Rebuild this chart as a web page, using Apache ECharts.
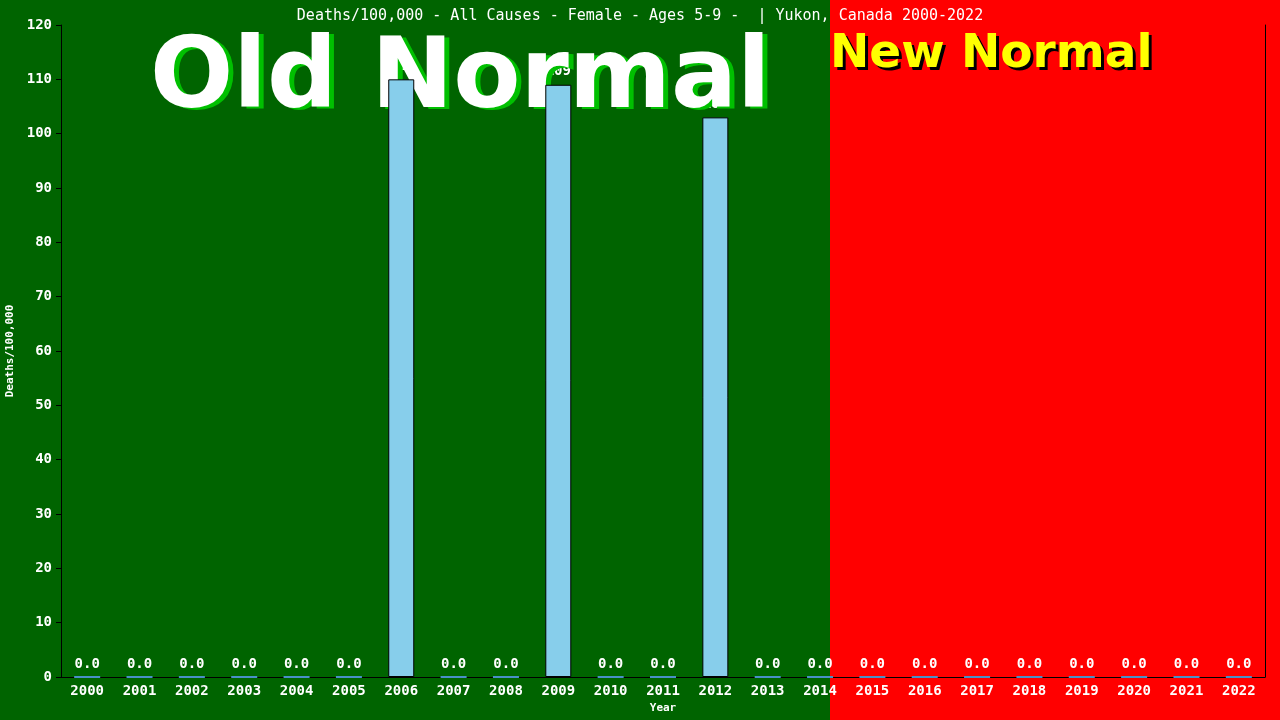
<!DOCTYPE html>
<html>
<head>
<meta charset="utf-8">
<script src="https://cdn.jsdelivr.net/npm/echarts@6/dist/echarts.min.js"></script>
<style>
  html, body { margin: 0; padding: 0; background: #006400; }
  #chart { width: 1280px; height: 720px; }
</style>
</head>
<body>
<div id="chart"></div>
<script>
// data
const years = ['2000', '2001', '2002', '2003', '2004', '2005', '2006', '2007', '2008', '2009', '2010', '2011',
    '2012', '2013', '2014', '2015', '2016', '2017', '2018', '2019', '2020', '2021', '2022'];
const deaths = [0, 0, 0, 0, 0, 0, 110, 0, 0, 109, 0, 0, 103, 0, 0, 0, 0, 0, 0, 0, 0, 0, 0];
const yTicks = [0, 10, 20, 30, 40, 50, 60, 70, 80, 90, 100, 110, 120];

const mono = 'DejaVu Sans Mono';

let chart = echarts.init(document.getElementById('chart'));

const labelStyle = {
    color: '#fff',
    fontFamily: mono,
    fontSize: 14,
    fontWeight: 'bold'
};

chart.setOption({
    backgroundColor: '#006400',
    animation: false,
    title: {
        text: 'Deaths/100,000 - All Causes - Female - Ages 5-9 -  | Yukon, Canada 2000-2022',
        left: 'center',
        top: 4,
        textStyle: {
            color: '#fff',
            fontFamily: mono,
            fontSize: 15,
            fontWeight: 'normal'
        }
    },
    graphic: [
        {
            type: 'rect',
            z: -10,
            shape: { x: 830, y: 0, width: 450, height: 720 },
            style: { fill: '#ff0000' }
        },
        {
            type: 'text',
            z: 0,
            left: 155,
            top: 35,
            style: {
                text: 'Old Normal',
                fill: '#00c000',
                font: 'bold 98px "DejaVu Sans"'
            }
        },
        {
            type: 'text',
            z: 1,
            left: 150,
            top: 33,
            style: {
                text: 'Old Normal',
                fill: '#fff',
                font: 'bold 98px "DejaVu Sans"'
            }
        },
        {
            type: 'text',
            z: 0,
            left: 833,
            top: 34,
            style: {
                text: 'New Normal',
                fill: '#000',
                font: 'bold 47px "DejaVu Sans"'
            }
        },
        {
            type: 'text',
            z: 1,
            left: 830,
            top: 31,
            style: {
                text: 'New Normal',
                fill: '#ffff00',
                font: 'bold 47px "DejaVu Sans"'
            }
        }
    ],
    grid: {
        left: 61,
        right: 15,
        top: 25,
        bottom: 43,
        outerBoundsMode: 'none'
    },
    xAxis: {
        type: 'category',
        data: years,
        name: 'Year',
        nameLocation: 'middle',
        nameGap: 26,
        nameTextStyle: {
            color: '#fff',
            fontFamily: mono,
            fontSize: 11,
            fontWeight: 'bold'
        },
        axisLine: {
            lineStyle: { color: '#000', width: 1 }
        },
        axisTick: { show: false },
        axisLabel: Object.assign({ margin: 7 }, labelStyle)
    },
    yAxis: [
        {
            type: 'value',
            min: yTicks[0],
            max: yTicks[yTicks.length - 1],
            interval: yTicks[1] - yTicks[0],
            name: 'Deaths/100,000',
            nameLocation: 'middle',
            nameGap: 41,
            nameTextStyle: {
                color: '#fff',
                fontFamily: mono,
                fontSize: 11,
                fontWeight: 'bold'
            },
            axisLine: {
                show: true,
                lineStyle: { color: '#000', width: 1 }
            },
            axisTick: {
                show: true,
                length: 5,
                lineStyle: { color: '#000' }
            },
            axisLabel: Object.assign({ margin: 9 }, labelStyle),
            splitLine: { show: false }
        },
        {
            type: 'value',
            position: 'right',
            min: yTicks[0],
            max: yTicks[yTicks.length - 1],
            interval: yTicks[1] - yTicks[0],
            axisLine: {
                show: true,
                lineStyle: { color: '#000', width: 1 }
            },
            axisTick: { show: false },
            axisLabel: { show: false },
            splitLine: { show: false }
        }
    ],
    series: [
        {
            // labels only, drawn under the big banner text
            type: 'bar',
            barWidth: 26,
            z: -1,
            silent: true,
            data: deaths,
            itemStyle: { color: 'rgba(0,0,0,0)' },
            label: Object.assign({
                show: true,
                position: 'top',
                distance: 6,
                formatter: function (p) {
                    return p.value === 0 ? '0.0' : String(p.value);
                }
            }, labelStyle)
        },
        {
            type: 'bar',
            barWidth: 26,
            barGap: '-100%',
            z: 5,
            data: deaths.map(function (v) {
                return {
                    value: v,
                    itemStyle: {
                        color: '#87ceeb',
                        borderColor: v === 0 ? '#4a90c8' : '#000',
                        borderWidth: v === 0 ? 2 : 1
                    }
                };
            })
        }
    ]
});
</script>
</body>
</html>
